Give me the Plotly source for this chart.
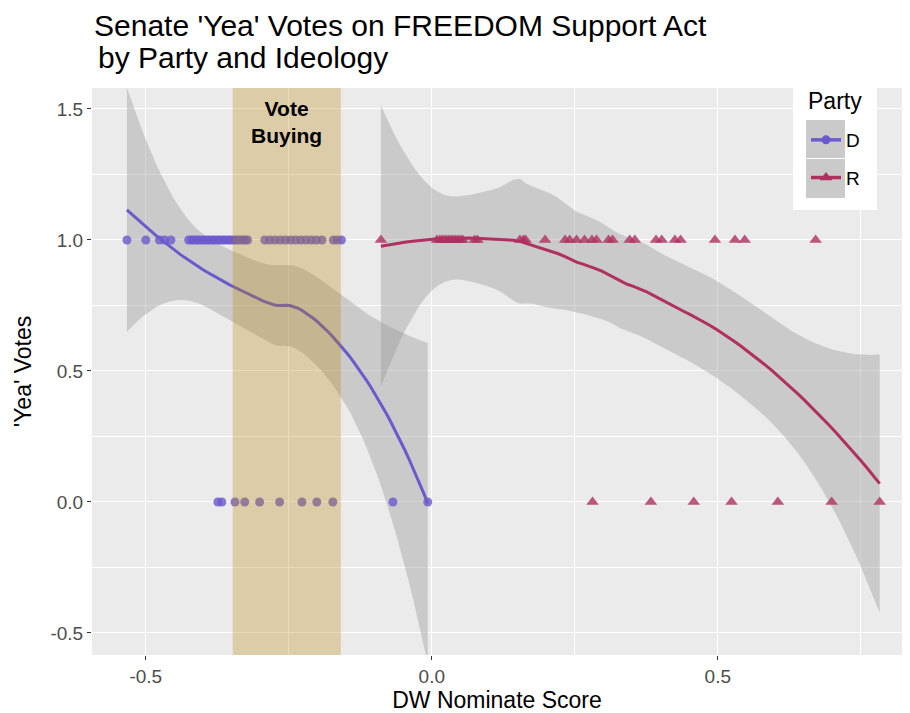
import numpy as np
import plotly.graph_objects as go

# ---- data (DW Nominate scores) ----
d_yea = [-0.533, -0.500, -0.476, -0.467, -0.456,
         -0.425, -0.420, -0.416, -0.411, -0.407, -0.402, -0.398, -0.393, -0.389, -0.384,
         -0.380, -0.375, -0.371, -0.366, -0.362, -0.357, -0.353, -0.348, -0.344, -0.339,
         -0.335, -0.330, -0.326, -0.322,
         -0.292, -0.283, -0.274, -0.265, -0.256, -0.247, -0.238, -0.229, -0.220, -0.211,
         -0.202, -0.192, -0.172, -0.165, -0.158]
d_nay = [-0.374, -0.367, -0.344, -0.327, -0.301, -0.266, -0.227, -0.201, -0.173, -0.068, -0.007]
r_yea = [-0.089, 0.009, 0.014, 0.018, 0.022, 0.026, 0.030, 0.034, 0.038, 0.042, 0.046, 0.050,
         0.054, 0.075, 0.080, 0.154, 0.160, 0.164, 0.198, 0.233, 0.241, 0.253, 0.267, 0.280,
         0.288, 0.309, 0.316, 0.346, 0.355, 0.392, 0.402, 0.425, 0.435, 0.495, 0.530, 0.547,
         0.671]
r_nay = [0.281, 0.383, 0.458, 0.524, 0.605, 0.699, 0.783]

vote_buying = [-0.348, -0.159]
x_ticks = [-0.5, 0.0, 0.5]
x_ticktext = ["-0.5", "0.0", "0.5"]
y_ticks = [-0.5, 0.0, 0.5, 1.0, 1.5]
y_ticktext = ["-0.5", "0.0", "0.5", "1.0", "1.5"]
title_lines = ["Senate 'Yea' Votes on FREEDOM Support Act", "by Party and Ideology"]

D_COL = "#6A5ACD"
R_COL = "#B03060"
FONT = "Liberation Sans, Arial, Helvetica, sans-serif"

# plot-area geometry in pixels (for paper-coordinate placement)
W, H = 910, 713
ML, MR, MT, MB = 92, 8, 88, 58
PW, PH = W - ML - MR, H - MT - MB


def px(xp):
    return (xp - ML) / PW


def py(yp):
    return (H - MB - yp) / PH


def tq975(df):
    z = 1.959964
    g1 = (z**3 + z) / 4
    g2 = (5 * z**5 + 16 * z**3 + 3 * z) / 96
    g3 = (3 * z**7 + 19 * z**5 + 17 * z**3 - 15 * z) / 384
    return z + g1 / df + g2 / df**2 + g3 / df**3


def loess(x, y, xs, span=0.75):
    x = np.asarray(x, float)
    y = np.asarray(y, float)
    n = len(x)
    q = min(n, int(np.floor(n * span)))

    def row(x0):
        d = np.abs(x - x0)
        h = np.sort(d)[q - 1] * max(1.0, span)
        w = np.clip(1 - (d / h) ** 3, 0, None) ** 3
        X = np.vstack([np.ones(n), x - x0, (x - x0) ** 2]).T
        XtW = X.T * w
        return np.linalg.solve(XtW @ X, XtW)[0]

    L = np.array([row(v) for v in x])
    res = y - L @ y
    IL = np.eye(n) - L
    M = IL.T @ IL
    d1 = np.trace(M)
    d2 = np.trace(M @ M)
    sigma = np.sqrt(np.sum(res**2) / d1)
    df = d1**2 / d2
    Ls = np.array([row(v) for v in xs])
    fit = Ls @ y
    se = sigma * np.sqrt((Ls**2).sum(axis=1))
    t = tq975(df)
    return fit, fit - t * se, fit + t * se


fig = go.Figure()

groups = [
    ("D", d_yea, d_nay, D_COL, "circle", 9, 1.0),
    ("R", r_yea, r_nay, R_COL, "triangle-up", 11, 0.75),
]

for name, yea, nay, col, sym, msize, span in groups:
    xx = np.array(yea + nay)
    yy = np.array([1.0] * len(yea) + [0.0] * len(nay))
    xs = np.linspace(xx.min(), xx.max(), 80)
    fit, lo, hi = loess(xx, yy, xs, span)
    fig.add_trace(go.Scatter(
        x=np.concatenate([xs, xs[::-1]]), y=np.concatenate([hi, lo[::-1]]),
        fill="toself", fillcolor="rgba(153,153,153,0.4)", line=dict(width=0),
        mode="lines", showlegend=False, hoverinfo="skip"))
    fig.add_trace(go.Scatter(
        x=xx, y=yy, mode="markers",
        marker=dict(color=col, symbol=sym, size=msize, opacity=0.8, line=dict(width=0)),
        showlegend=False, name=name))
    fig.add_trace(go.Scatter(
        x=xs, y=fit, mode="lines", line=dict(color=col, width=3),
        showlegend=False, name=name))
    fig.add_trace(go.Scatter(
        x=[None], y=[None], mode="lines+markers", name=name,
        line=dict(color=col, width=3.5),
        marker=dict(color=col, symbol=sym, size=msize), legendgroup=name))

# vote buying rectangle (drawn above the data)
fig.add_shape(type="rect", xref="x", yref="paper", x0=vote_buying[0], x1=vote_buying[1],
              y0=0, y1=1, fillcolor="rgba(184,134,11,0.3)", line=dict(width=0), layer="above")
fig.add_annotation(x=sum(vote_buying) / 2, y=1.45, xref="x", yref="y",
                   text="<b>Vote<br>Buying</b>", showarrow=False,
                   font=dict(family=FONT, size=21, color="black"))

# legend background (white box, grey keys) and title
fig.add_shape(type="rect", xref="paper", yref="paper", x0=px(793), x1=px(877), y0=py(210), y1=1.0,
              fillcolor="white", line=dict(width=0), layer="above")
fig.add_shape(type="rect", xref="paper", yref="paper", x0=px(806), x1=px(845), y0=py(158), y1=py(120),
              fillcolor="#CACACA", line=dict(width=0), layer="above")
fig.add_shape(type="rect", xref="paper", yref="paper", x0=px(806), x1=px(845), y0=py(198), y1=py(159),
              fillcolor="#CACACA", line=dict(width=0), layer="above")
fig.add_annotation(x=px(806), y=py(101), xref="paper", yref="paper", xanchor="left", yanchor="middle",
                   text="Party", showarrow=False, font=dict(family=FONT, size=23, color="black"))

# title (two lines)
for line, xl, yc in zip(title_lines, [92, 96], [26, 58]):
    fig.add_annotation(x=px(xl), y=py(yc), xref="paper", yref="paper", xanchor="left",
                       yanchor="middle", text=line, showarrow=False,
                       font=dict(family=FONT, size=30, color="black"))

fig.update_layout(
    width=W, height=H,
    margin=dict(l=ML, r=MR, t=MT, b=MB),
    paper_bgcolor="white", plot_bgcolor="#EBEBEB",
    font=dict(family=FONT, color="black"),
    showlegend=True,
    legend=dict(x=px(806), y=py(121), xanchor="left", yanchor="top",
                bgcolor="rgba(0,0,0,0)", font=dict(size=19, family=FONT),
                tracegroupgap=10, itemwidth=30),
    xaxis=dict(range=[-0.594, 0.822], tickvals=x_ticks, ticktext=x_ticktext,
               showgrid=True, gridcolor="white", gridwidth=1.4, zeroline=False,
               ticks="outside", ticklen=4, tickcolor="#333333", automargin=False,
               tickfont=dict(size=19, color="#4D4D4D"),
               minor=dict(dtick=0.25, tick0=0.25, showgrid=True, gridcolor="white", gridwidth=0.6),
               title=dict(text="DW Nominate Score", font=dict(size=23), standoff=6)),
    yaxis=dict(range=[-0.584, 1.58], tickvals=y_ticks, ticktext=y_ticktext,
               showgrid=True, gridcolor="white", gridwidth=1.4, zeroline=False,
               ticks="outside", ticklen=4, tickcolor="#333333", automargin=False,
               tickfont=dict(size=19, color="#4D4D4D"),
               minor=dict(dtick=0.25, tick0=0.25, showgrid=True, gridcolor="white", gridwidth=0.6),
               title=dict(text="'Yea' Votes", font=dict(size=23), standoff=12)),
)

fig.write_html("out.html")
